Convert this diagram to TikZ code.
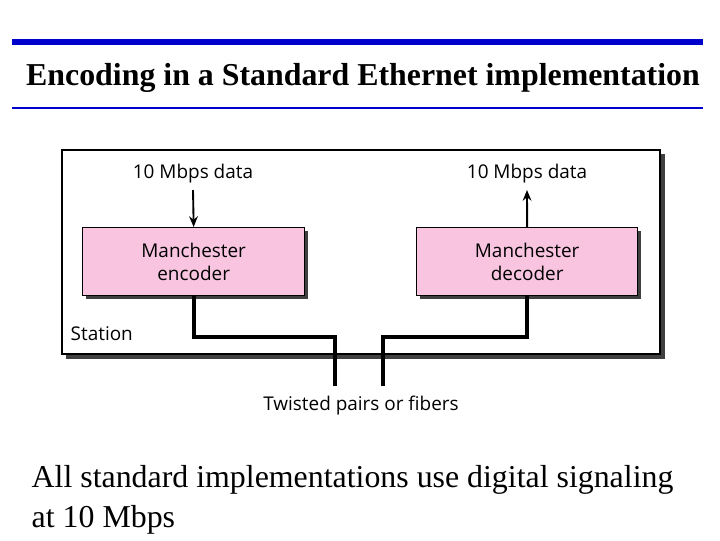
\documentclass[tikz,border=0pt]{standalone}
\usepackage{fontspec}
\usetikzlibrary{arrows.meta}
\setmainfont{Liberation Serif}
\newfontfamily\lab{Open Sans}
\definecolor{boxpink}{RGB}{248,196,224}
\begin{document}
\begin{tikzpicture}[x=0.75pt,y=-0.75pt,
 lbl/.style={font=\lab\fontsize{14.2}{17}\selectfont},
 box/.style={draw=black,line width=1pt,fill=boxpink},
 wire/.style={line width=3pt,line cap=butt},
 arr/.style={line width=1.4pt,-{Stealth[length=8pt,width=6.5pt]}}]
\useasboundingbox (0,0) rectangle (720,540);
\draw[line width=4.5pt,blue!80!black] (12,42) -- (703,42);
\draw[line width=1.5pt,blue!80!black] (12,108) -- (703,108);
\node[font=\bfseries\fontsize{23.9}{26}\selectfont] (title) at (363,78) {Encoding in a Standard Ethernet implementation};
% station
\fill[black!75] (66,154) rectangle (665,359);
\draw[fill=white,line width=0.8pt] (62,150) rectangle (660,354);
% boxes
\fill[black!75] (86,231) rectangle (308,299);
\fill[black!75] (420,231) rectangle (641,299);
\node[box,minimum width=222*0.75pt,minimum height=68*0.75pt,anchor=north west,lbl,align=center] (enc) at (82,227) {Manchester\\encoder};
\node[box,minimum width=221*0.75pt,minimum height=68*0.75pt,anchor=north west,lbl,align=center] (dec) at (416,227) {Manchester\\decoder};
\node[lbl] (din) at (193,174) {10 Mbps data};
\node[lbl] (dout) at (527,174) {10 Mbps data};
\draw[arr] (193,190) -- (enc.north);
\draw[arr] (dec.north) -- (527,190);
\node[lbl,anchor=west] (st) at (66,334) {Station};
\coordinate (e1) at (335,386);
\coordinate (d1) at (383,386);
\draw[wire] (enc.south) |- (335,337) -- (e1);
\draw[wire] (dec.south) |- (383,337) -- (d1);
\node[lbl] (tp) at (361,406) {Twisted pairs or fibers};
\node[anchor=west,font=\fontsize{23.9}{30}\selectfont,align=left] (bt) at (27,500) {All standard implementations use digital signaling\\at 10 Mbps};
\end{tikzpicture}
\end{document}
